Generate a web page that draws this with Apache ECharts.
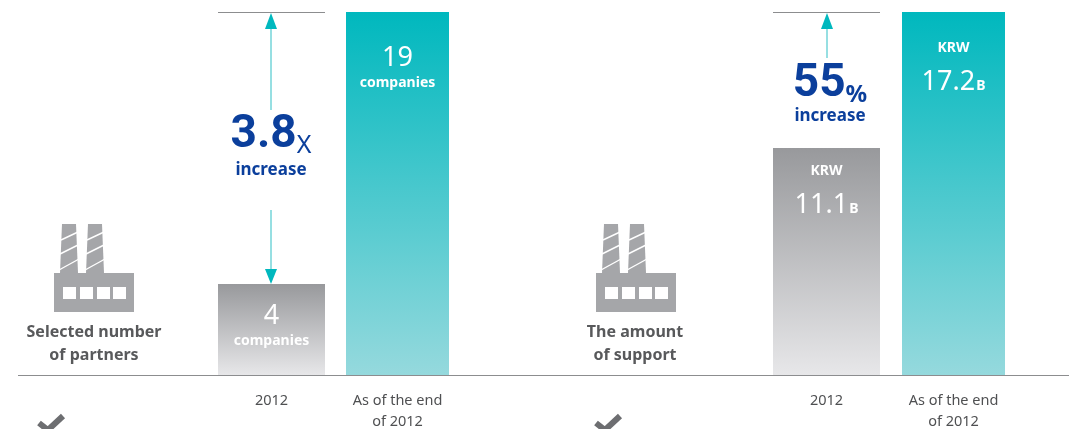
<!DOCTYPE html>
<html><head><meta charset="utf-8">
<style>html,body{margin:0;padding:0;background:#fff}#c{width:1069px;height:429px}</style>
<script src="https://cdn.jsdelivr.net/npm/echarts@6/dist/echarts.min.js"></script>
</head><body><div id="c"></div>
<script>
var periods = ['2012', 'As of the end\nof 2012'];
// bar heights as drawn in the picture (the original is not to scale with its labels)
var partnersHeights = [4.76, 19];
var supportHeights = [10.76, 17.2];
var partnersLabels = ['4', '19'];
var supportLabels = ['11.1', '17.2'];
var partnersUnit = 'companies';
var supportUnit = 'KRW';
var supportSuffix = 'B';

var FONT = '"Noto Sans", sans-serif';
var BIG = 'Roboto, "Noto Sans", sans-serif';
var chart = echarts.init(document.getElementById('c'), null, {renderer: 'canvas'});
var grey = new echarts.graphic.LinearGradient(0,0,0,1,[{offset:0,color:'#98999c'},{offset:1,color:'#e7e7e9'}]);
var teal = new echarts.graphic.LinearGradient(0,0,0,1,[{offset:0,color:'#00b8be'},{offset:1,color:'#95d9dd'}]);

var slots = [
  {left:218,width:107,max:19,val:partnersHeights[0],cat:periods[0],color:grey,kind:'p',text:partnersLabels[0],dist:18},
  {left:346,width:103,max:19,val:partnersHeights[1],cat:periods[1],color:teal,kind:'p',text:partnersLabels[1],dist:32},
  {left:773,width:107,max:17.2,val:supportHeights[0],cat:periods[0],color:grey,kind:'s',text:supportLabels[0],dist:3},
  {left:902,width:103,max:17.2,val:supportHeights[1],cat:periods[1],color:teal,kind:'s',text:supportLabels[1],dist:16}
];
var rich = {
  num:{fontFamily:FONT,fontSize:27,fontWeight:400,color:'#fff',lineHeight:29},
  unit:{fontFamily:FONT,fontSize:14,fontWeight:700,color:'#fff',lineHeight:20},
  krw:{fontFamily:FONT,fontSize:14,fontWeight:700,color:'#fff',lineHeight:40},
  b:{fontFamily:FONT,fontSize:14,fontWeight:700,color:'#fff',verticalAlign:'middle',padding:[8,0,0,1],lineHeight:29}
};
var grids=[],xs=[],ys=[],series=[];
slots.forEach(function(s,i){
  grids.push({left:s.left,width:s.width,top:12,height:363,containLabel:false,outerBoundsMode:'none'});
  xs.push({type:'category',gridIndex:i,data:[s.cat],axisLine:{show:false},axisTick:{show:false},
    axisLabel:{margin:15,color:'#4f5052',fontFamily:FONT,fontSize:14.5,lineHeight:21,interval:0,verticalAlign:'top'}});
  ys.push({type:'value',gridIndex:i,min:0,max:s.max,show:false,splitLine:{show:false}});
  series.push({type:'bar',xAxisIndex:i,yAxisIndex:i,barWidth:'100%',data:[s.val],silent:true,
    itemStyle:{color:s.color},
    label:{show:true,position:'insideTop',distance:s.dist,rich:rich,
      formatter:s.kind==='p'?'{num|'+s.text+'}\n{unit|'+partnersUnit+'}'
                            :'{krw|'+supportUnit+'}\n{num|'+s.text+'}{b|'+supportSuffix+'}'}});
});

function factory(dx){
  var c='#a5a6a9';
  function chimney(o){return [
    {type:'polygon',shape:{points:[[62+o,224],[76+o,224],[78+o,273],[60+o,273]]},style:{fill:c}},
    {type:'line',shape:{x1:61+o,y1:240,x2:78+o,y2:232},style:{stroke:'#fff',lineWidth:1.4}},
    {type:'line',shape:{x1:60+o,y1:254,x2:78+o,y2:245},style:{stroke:'#fff',lineWidth:1.4}},
    {type:'line',shape:{x1:59+o,y1:270,x2:79+o,y2:259},style:{stroke:'#fff',lineWidth:1.4}}
  ];}
  var kids=[{type:'rect',shape:{x:54,y:273,width:80,height:39},style:{fill:c}}]
    .concat(chimney(0)).concat(chimney(26));
  [63,80,97,113].forEach(function(x){kids.push({type:'rect',shape:{x:x,y:287,width:13,height:12},style:{fill:'#fff'}});});
  return {type:'group',x:dx,y:0,silent:true,children:kids};
}
function txt(x,y,t,size,weight,color,align){
  return {type:'text',x:x,y:y,silent:true,style:{text:t,fontFamily:FONT,fontSize:size,fontWeight:weight,fill:color,align:align||'center',verticalAlign:'middle',lineHeight:size+7}};
}
function vline(x,y1,y2){return {type:'line',silent:true,shape:{x1:x,y1:y1,x2:x,y2:y2},style:{stroke:'#2fbfc5',lineWidth:1}};}
function head(x,tip,base){return {type:'polygon',silent:true,shape:{points:[[x,tip],[x-6,base],[x+6,base]]},style:{fill:'#00b8be'}};}
function hline(x1,x2,y,c){return {type:'line',silent:true,shape:{x1:x1,y1:y,x2:x2,y2:y},style:{stroke:c||'#8c8d8f',lineWidth:1.2}};}
function check(x,y){return {type:'polyline',silent:true,shape:{points:[[x,y+9],[x+9,y+16],[x+24,y+2]]},style:{stroke:'#6d6e71',lineWidth:6,fill:'none'}};}
var BLUE='#0b3f9c', TXT='#58595b';
var graphics=[
  hline(18,1069,375.5,'#8c8d8f'),
  hline(218,325,12.5), hline(773,880,12.5),
  vline(271,28,110), head(271,13,29),
  vline(271,210,270), head(271,284,269),
  vline(827,28,58), head(827,13,29),
  factory(0), factory(542),
  txt(94,344,'Selected number\nof partners',16,700,TXT),
  txt(635,344,'The amount\nof support',16,700,TXT),
  {type:'text',x:271,y:135,silent:true,style:{text:'{a|3.8}{b|X}',align:'center',verticalAlign:'middle',rich:{
    a:{fontFamily:BIG,fontSize:46,fontWeight:700,fill:BLUE,color:BLUE},
    b:{fontFamily:FONT,fontSize:25,fontWeight:400,fill:BLUE,color:BLUE,verticalAlign:'bottom'}}}},
  txt(271,170,'increase',17,700,BLUE),
  {type:'text',x:830,y:84,silent:true,style:{text:'{a|55}{b|%}',align:'center',verticalAlign:'middle',rich:{
    a:{fontFamily:BIG,fontSize:46,fontWeight:700,fill:BLUE,color:BLUE},
    b:{fontFamily:FONT,fontSize:24,fontWeight:700,fill:BLUE,color:BLUE,verticalAlign:'bottom'}}}},
  txt(830,116,'increase',17,700,BLUE),
  check(39,414), check(596,414)
];
chart.setOption({animation:false,backgroundColor:'#fff',grid:grids,xAxis:xs,yAxis:ys,series:series,graphic:graphics});
</script></body></html>
